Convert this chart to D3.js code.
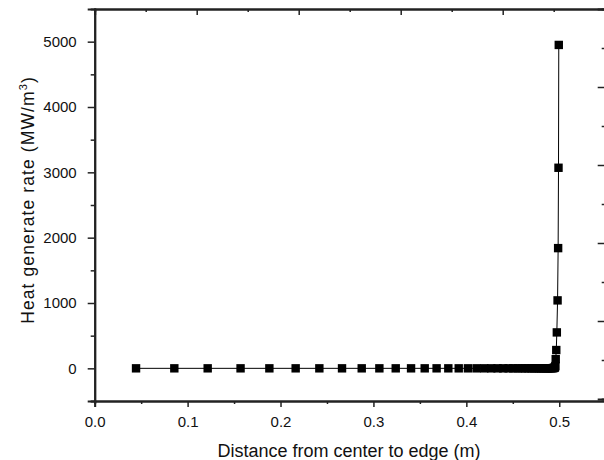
<!DOCTYPE html>
<html>
<head>
<meta charset="utf-8">
<script src="https://cdn.jsdelivr.net/npm/d3@7"></script>
<style>
  body { margin: 0; background: #fff; }
  text { font-family: "Liberation Sans", Arial, sans-serif; }
</style>
</head>
<body>
<div id="container"></div>
<script>
let w = 604;
let h = 460;

// data
let distance = [0.0445, 0.0857, 0.1216, 0.157, 0.188, 0.2163, 0.2418, 0.2662, 0.2874, 0.3064,
  0.324, 0.3405, 0.3552, 0.368, 0.3806, 0.3918, 0.4017, 0.411, 0.4193, 0.4268,
  0.4336, 0.4397, 0.4455, 0.4505, 0.4552, 0.4595, 0.4634, 0.467, 0.4702, 0.4731,
  0.476, 0.4785, 0.4806, 0.4828, 0.4846, 0.4864, 0.4878, 0.4892, 0.4907, 0.4917,
  0.4928, 0.4935, 0.4943, 0.495, 0.4954, 0.4958, 0.4962, 0.4968, 0.4974, 0.4982,
  0.4988, 0.4992, 0.4995];
let heatRate = [0, 0, 0, 0, 0, 0, 0, 0, 0, 0,
  0, 0, 0, 0, 0, 0, 0, 0, 0, 0,
  0, 0, 0, 0, 0, 0, 0, 0, 0, 0,
  0, 0, 0, 0.5, 0.5, 1, 1, 1, 2, 2,
  3, 4, 6, 10, 18, 35, 140, 280, 550, 1040,
  1840, 3070, 4950];

let xTicks = [0.0, 0.1, 0.2, 0.3, 0.4, 0.5];
let yTicks = [0, 1000, 2000, 3000, 4000, 5000];

let padLeft = 94.7, padRight = 605.7, padTop = 9, padBottom = 401;

let viz = d3.select("#container").append("svg")
    .attr("width", w)
    .attr("height", h)
    .style("background-color", "white");

let xScale = d3.scaleLinear().domain([0, 0.55]).range([padLeft, padRight]);
let yScale = d3.scaleLinear().domain([-500, 5500]).range([padBottom, padTop]);
// top / right frame ticks in the original don't line up with the data scales
let topScale = d3.scaleLinear().domain([0, 5]).range([padLeft, padLeft + 510]);
let rightScale = d3.scaleLinear().domain([0, 10]).range([399, 9]);

let points = distance.map(function(d, i){ return {x: d, y: heatRate[i]}; });

// axes: bottom + left (outward ticks)
viz.append("g").attr("transform", "translate(0," + padBottom + ")")
  .call(d3.axisBottom(xScale).tickValues(xTicks).tickFormat(d3.format(".1f")).tickSize(6).tickPadding(9));
viz.append("g").attr("transform", "translate(0," + padBottom + ")")
  .call(d3.axisBottom(xScale).tickValues([0.05, 0.15, 0.25, 0.35, 0.45, 0.55]).tickFormat("").tickSize(3));

viz.append("g").attr("transform", "translate(" + padLeft + ",0)")
  .call(d3.axisLeft(yScale).tickValues(yTicks).tickFormat(d3.format("d")).tickSize(7).tickPadding(11));
viz.append("g").attr("transform", "translate(" + padLeft + ",0)")
  .call(d3.axisLeft(yScale).tickValues([-500, 500, 1500, 2500, 3500, 4500]).tickFormat("").tickSize(4));

// top frame
viz.append("g").attr("transform", "translate(0," + padTop + ")")
  .call(d3.axisBottom(topScale).tickValues([0, 1, 2, 3, 4]).tickFormat("").tickSize(6));
viz.append("g").attr("transform", "translate(0," + padTop + ")")
  .call(d3.axisBottom(topScale).tickValues([0.5, 1.5, 2.5, 3.5, 4.5]).tickFormat("").tickSize(3));

// right frame
viz.append("g").attr("transform", "translate(" + padRight + ",0)")
  .call(d3.axisLeft(rightScale).tickValues([2, 4, 6, 8]).tickFormat("").tickSize(8));
viz.append("g").attr("transform", "translate(" + padRight + ",0)")
  .call(d3.axisLeft(rightScale).tickValues([1, 3, 5, 7, 9]).tickFormat("").tickSize(4));

viz.selectAll(".domain").attr("stroke", "#222").attr("stroke-width", 2);
viz.selectAll(".tick line").attr("stroke", "#222").attr("stroke-width", 1.5);
viz.selectAll(".tick text").attr("font-size", 15).attr("fill", "#111")
  .style("font-family", "'Liberation Sans', Arial, sans-serif");

// line + markers
let lineMaker = d3.line()
    .x(function(d){ return xScale(d.x); })
    .y(function(d){ return yScale(d.y); });

viz.append("path")
    .datum(points)
    .attr("d", lineMaker)
    .attr("fill", "none")
    .attr("stroke", "black")
    .attr("stroke-width", 1);

viz.selectAll(".pt").data(points).enter()
  .append("rect")
    .attr("class", "pt")
    .attr("x", function(d){ return xScale(d.x) - 4.2; })
    .attr("y", function(d){ return yScale(d.y) - 4.2; })
    .attr("width", 8.4)
    .attr("height", 8.4)
    .attr("fill", "black");

// axis titles
viz.append("text")
    .attr("x", 349)
    .attr("y", 457)
    .attr("text-anchor", "middle")
    .attr("font-size", 18)
    .attr("fill", "#111")
    .text("Distance from center to edge (m)");

let yTitle = viz.append("text")
    .attr("transform", "translate(33.5," + 200 + ") rotate(-90)")
    .attr("text-anchor", "middle")
    .attr("font-size", 17.5)
    .attr("letter-spacing", 1.1)
    .attr("fill", "#111");
yTitle.append("tspan").text("Heat generate rate (MW/m");
yTitle.append("tspan").attr("dy", -7).attr("font-size", 11).text("3");
yTitle.append("tspan").attr("dy", 7).text(")");
</script>
</body>
</html>
